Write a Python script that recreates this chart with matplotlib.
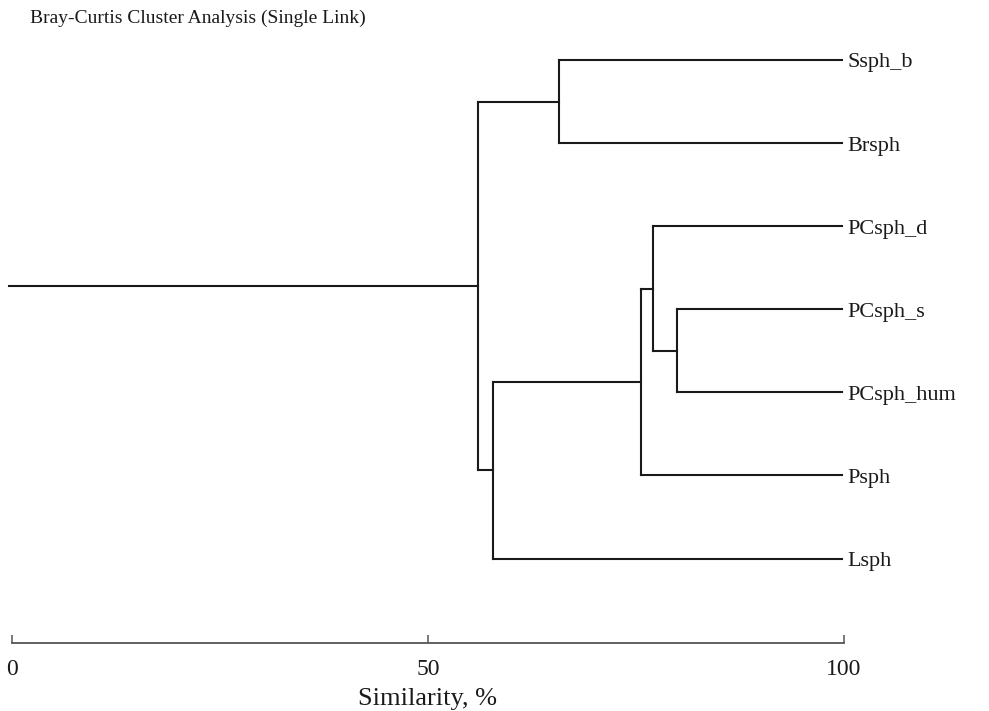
import matplotlib.pyplot as plt

plt.rcParams["font.family"] = ["Liberation Serif", "DejaVu Serif"]

# leaves from top to bottom
leaves = ["Ssph_b", "Brsph", "PCsph_d", "PCsph_s", "PCsph_hum", "Psph", "Lsph"]
# merges: (left, right, similarity %), clusters named c1..c6 in order
merge_left = ["Ssph_b", "PCsph_s", "PCsph_d", "c3", "c4", "c1"]
merge_right = ["Brsph", "PCsph_hum", "c2", "Psph", "Lsph", "c5"]
merge_sim = [65.7, 79.9, 77.1, 75.6, 57.8, 56.0]
leaf_end = 99.7
root_start = -0.3

fig = plt.figure(figsize=(9.89, 7.11), dpi=100)
ax = fig.add_axes([0.0, 0.0961, 1.0, 0.9039])

line_kw = dict(color="#1a1a1a", lw=1.5, solid_capstyle="projecting")

# position and x of each node
pos = {name: i for i, name in enumerate(leaves)}
xs = {name: leaf_end for name in leaves}

for k, (a, b, s) in enumerate(zip(merge_left, merge_right, merge_sim)):
    ax.plot([s, xs[a]], [pos[a], pos[a]], **line_kw)
    ax.plot([s, xs[b]], [pos[b], pos[b]], **line_kw)
    ax.plot([s, s], [pos[a], pos[b]], **line_kw)
    c = "c%d" % (k + 1)
    pos[c] = (pos[a] + pos[b]) / 2
    xs[c] = s

ax.plot([root_start, xs["c6"]], [pos["c6"], pos["c6"]], **line_kw)

for name in leaves:
    ax.text(100.45, pos[name] + 0.035, name, fontsize=16, va="center", ha="left",
            color="#1a1a1a")

ax.set_xlim(-1.406, 117.42)
ax.set_ylim(7.012, -0.722)
for side in ["top", "left", "right"]:
    ax.spines[side].set_visible(False)
ax.spines["bottom"].set_bounds(0, 100)
ax.spines["bottom"].set_color("#555555")
ax.spines["bottom"].set_linewidth(1.3)
ax.set_yticks([])
ax.set_xticks([0, 50, 100])
ax.tick_params(axis="x", direction="in", length=6, width=1.1, color="#555555",
               labelsize=17, pad=12, labelcolor="#1a1a1a")
ax.set_xlabel("Similarity, %", fontsize=19, color="#1a1a1a")
ax.xaxis.set_label_coords(50 / 118.826 + 1.406 / 118.826, -0.07)

fig.text(30 / 989, 1 - 18 / 711, "Bray-Curtis Cluster Analysis (Single Link)",
         fontsize=14, va="center", ha="left", color="#1a1a1a")

fig.savefig("out.png", dpi=100)
